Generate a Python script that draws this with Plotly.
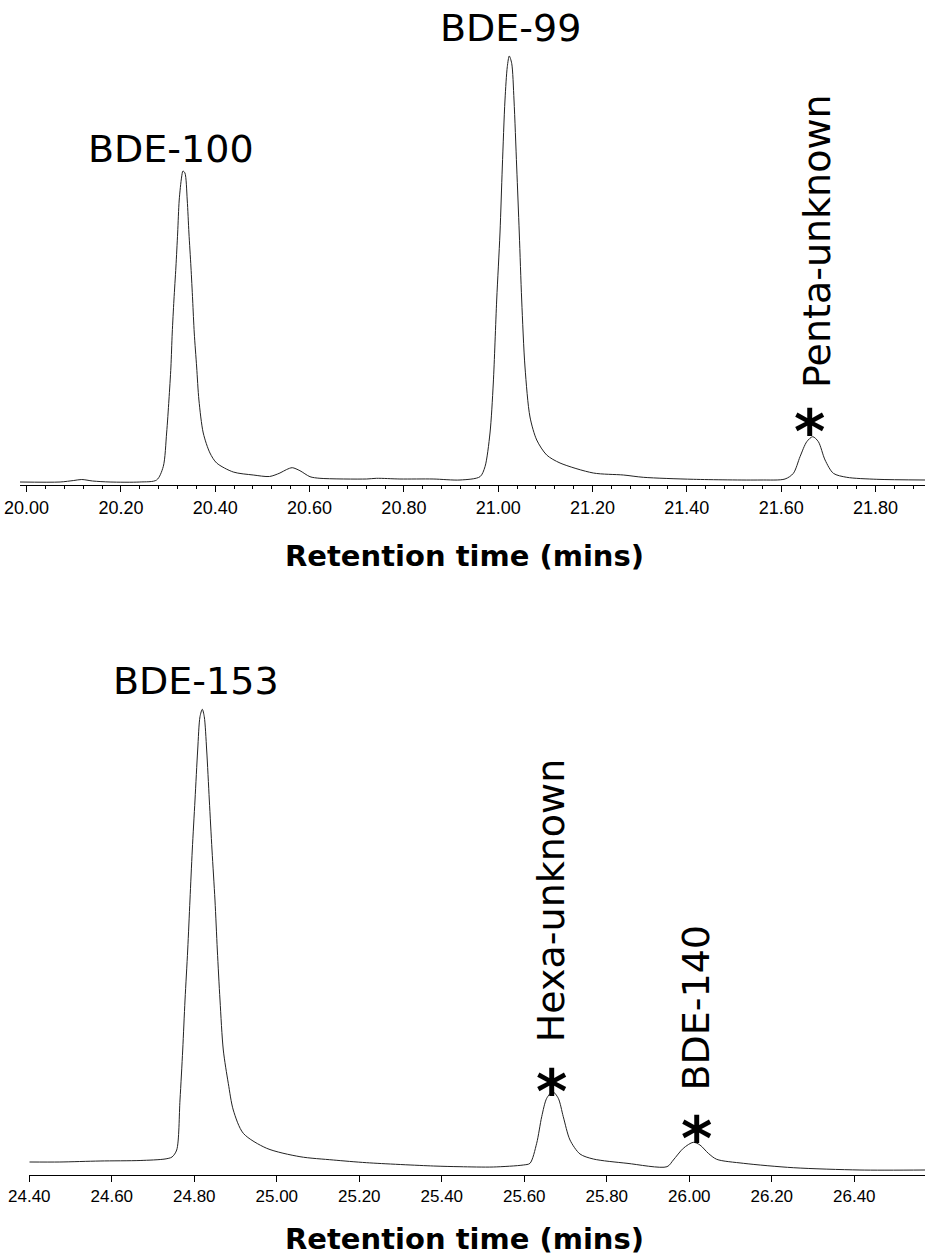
import plotly.graph_objects as go

# ---------------- data ----------------
# Top chromatogram: retention time (min) and detector signal (arbitrary units)
top_time = [19.986, 20.071, 20.100, 20.117, 20.140, 20.177, 20.240, 20.2757, 20.2897, 20.2969,
            20.3018, 20.306, 20.3088, 20.3124, 20.3166, 20.3203, 20.3236, 20.3287, 20.3315, 20.3357,
            20.3406, 20.3442, 20.3485, 20.3521, 20.3555, 20.3606, 20.3654, 20.3746, 20.3888, 20.403,
            20.4382, 20.4806, 20.515, 20.5372, 20.5514, 20.5633, 20.5796, 20.6009, 20.622, 20.721,
            20.742, 20.7916, 20.862, 20.919, 20.9614, 20.972, 20.9826, 20.9896, 20.9968, 21.0038,
            21.0087, 21.0144, 21.0193, 21.0235, 21.0286, 21.0335, 21.0392, 21.0447, 21.0498, 21.0568,
            21.0674, 21.0817, 21.1028, 21.1311, 21.2017, 21.2653, 21.3077, 21.4138, 21.5552, 21.6082,
            21.6259, 21.64, 21.6543, 21.667, 21.6789, 21.6931, 21.7107, 21.7391, 21.8028, 21.9051]
top_signal = [3, 3, 4.5, 5.5, 4, 3, 3, 5, 18.3, 52,
              85, 118, 152, 185, 218, 252, 285, 308, 314, 312,
              285, 252, 218, 185, 152, 118, 85, 52, 32, 22,
              13, 10, 8.5, 12, 15.5, 17.3, 14.3, 8.3, 6.7, 6,
              6.7, 6, 6, 5, 8.3, 18.3, 52, 102, 185, 252,
              318, 385, 418.3, 429, 421.7, 385, 318, 252, 185, 118,
              68, 45, 30, 22, 12, 10, 7.7, 5.7, 5, 6,
              11.7, 28.3, 43.3, 48.3, 43.3, 25, 11.7, 7.7, 5.7, 5]

# Bottom chromatogram
bottom_time = [24.4, 24.474, 24.5716, 24.6686, 24.729, 24.746, 24.7573, 24.7653, 24.7719, 24.7775,
               24.784, 24.7895, 24.7951, 24.8017, 24.8082, 24.8138, 24.8194, 24.8242, 24.83, 24.8364,
               24.8429, 24.8501, 24.8558, 24.8623, 24.8703, 24.8824, 24.8945, 24.9188, 24.9755, 25.0562,
               25.137, 25.2179, 25.3794, 25.4441, 25.5249, 25.5976, 25.6138, 25.63, 25.6422, 25.6543,
               25.6688, 25.6824, 25.6945, 25.7108, 25.735, 25.7673, 25.849, 25.946, 25.9613, 25.9855,
               26.0097, 26.0259, 26.0461, 26.0664, 26.131, 26.2521, 26.4138, 26.5714]
bottom_signal = [13, 13, 14, 14.5, 16, 18, 25, 75, 125, 175,
                 225, 275, 325, 375, 425, 458.3, 465.7, 458.3, 425, 375,
                 325, 275, 225, 175, 125, 91.7, 65, 41.7, 26.7, 18.3,
                 15, 12.3, 9, 8.3, 8, 10, 11.7, 31.7, 58.3, 76.7,
                 83.3, 76.7, 58.3, 35, 21, 16, 11.7, 8.3, 15, 26.7,
                 32.7, 30, 21.7, 15.7, 11.7, 7.3, 5, 5]

# Peak labels: text, retention time, label height, rotated?
top_labels = ["BDE-100", "BDE-99", "Penta-unknown"]
top_label_time = [20.306, 21.027, 21.675]
top_label_level = [336, 457, 243.5]
top_label_rotated = [False, False, True]
top_star_time = [21.661]
top_star_level = [67.5]

bottom_labels = ["BDE-153", "Hexa-unknown", "BDE-140"]
bottom_label_time = [24.804, 25.664, 26.014]
bottom_label_level = [494.5, 274.5, 167.5]
bottom_label_rotated = [False, True, True]
bottom_star_time = [25.667, 26.018]
bottom_star_level = [97, 50]

x_title = "Retention time (mins)"

# ---------------- figure ----------------
W, H = 925, 1257
LINE = "#222222"
LABEL_FONT = "DejaVu Sans"
TICK_FONT = "Liberation Sans, Arial"

fig = go.Figure()
fig.add_trace(go.Scatter(x=top_time, y=top_signal, mode="lines",
                         line=dict(color=LINE, width=1, shape="spline", smoothing=0.8),
                         xaxis="x", yaxis="y", showlegend=False, hoverinfo="skip"))
fig.add_trace(go.Scatter(x=bottom_time, y=bottom_signal, mode="lines",
                         line=dict(color=LINE, width=1, shape="spline", smoothing=0.8),
                         xaxis="x2", yaxis="y2", showlegend=False, hoverinfo="skip"))

top_axis_px, bottom_axis_px = 485, 1175
annotations = []


def add_labels(texts, times, levels, rotated, xref, yref):
    for t, x, y, r in zip(texts, times, levels, rotated):
        annotations.append(dict(text=t, x=x, y=y, xref=xref, yref=yref,
                                xanchor="center", yanchor="middle", showarrow=False,
                                textangle=-90 if r else 0,
                                font=dict(family=LABEL_FONT, size=38, color="black")))


def add_stars(times, levels, xref, yref):
    for x, y in zip(times, levels):
        annotations.append(dict(text="<b>*</b>", x=x, y=y, xref=xref, yref=yref,
                                xanchor="center", yanchor="middle", showarrow=False,
                                yshift=-14,
                                font=dict(family=LABEL_FONT, size=60, color="black")))


add_labels(top_labels, top_label_time, top_label_level, top_label_rotated, "x", "y")
add_stars(top_star_time, top_star_level, "x", "y")
add_labels(bottom_labels, bottom_label_time, bottom_label_level, bottom_label_rotated, "x2", "y2")
add_stars(bottom_star_time, bottom_star_level, "x2", "y2")

for cy in (556.5, 1239):
    annotations.append(dict(text="<b>%s</b>" % x_title, x=464.5 / W, y=1 - cy / H,
                            xref="paper", yref="paper", xanchor="center", yanchor="middle",
                            showarrow=False,
                            font=dict(family=LABEL_FONT, size=29, color="black")))

axis_common = dict(showgrid=False, zeroline=False, showline=True, linecolor="black",
                   linewidth=1, ticks="outside", ticklen=6, tickwidth=1, tickcolor="black",
                   tickformat=".2f", dtick=0.2, fixedrange=True, automargin=False)

fig.update_layout(
    width=W, height=H,
    margin=dict(l=0, r=0, t=0, b=0, pad=0, autoexpand=False),
    paper_bgcolor="white", plot_bgcolor="white",
    xaxis=dict(**axis_common, domain=[20 / W, 1], range=[19.986, 21.905], tick0=20.0,
               anchor="y", tickfont=dict(family=TICK_FONT, size=18, color="black"),
               minor=dict(dtick=0.04, tick0=20.0, ticks="outside", ticklen=3,
                          tickcolor="black", tickwidth=1, showgrid=False)),
    yaxis=dict(domain=[1 - top_axis_px / H, 1], range=[0, top_axis_px], visible=False,
               fixedrange=True, automargin=False),
    xaxis2=dict(**axis_common, domain=[29.3 / W, 1], range=[24.4, 26.5714], tick0=24.4,
                anchor="y2", tickfont=dict(family=TICK_FONT, size=17, color="black")),
    yaxis2=dict(domain=[1 - bottom_axis_px / H, 1 - 650 / H], range=[0, 525], visible=False,
                fixedrange=True, automargin=False),
    annotations=annotations,
)

fig.write_html("out.html")
